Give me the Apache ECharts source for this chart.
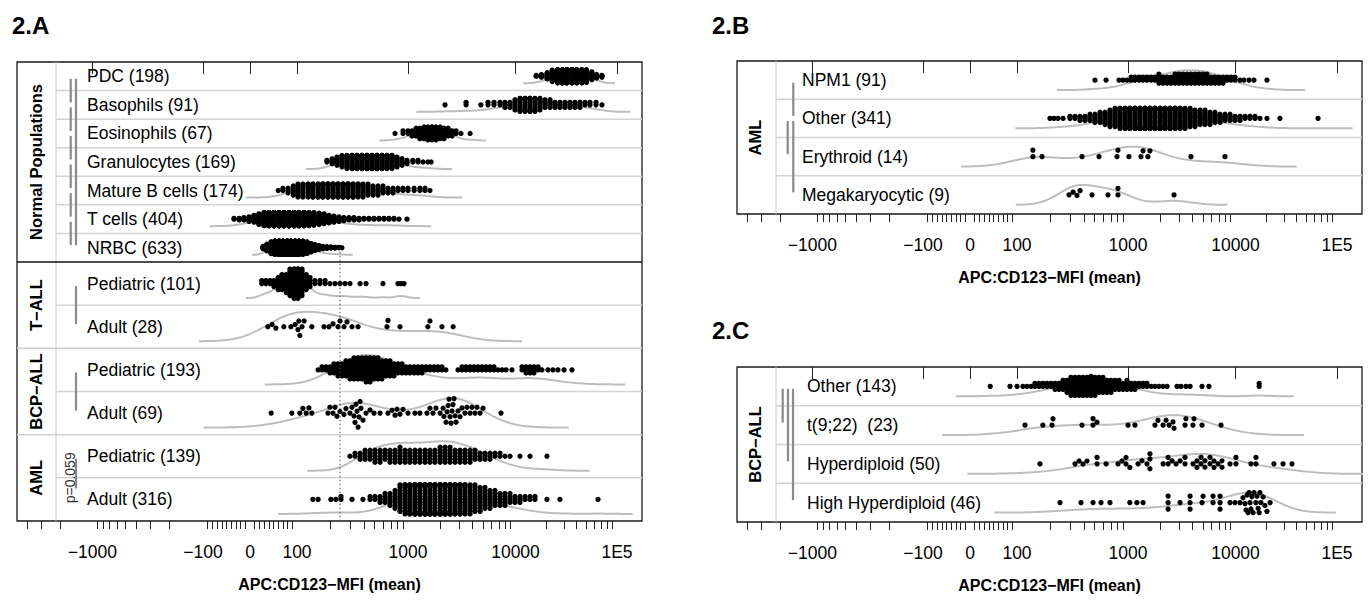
<!DOCTYPE html>
<html><head><meta charset="utf-8">
<script src="https://cdn.jsdelivr.net/npm/echarts@6.0.0/dist/echarts.min.js"></script>
<style>html,body{margin:0;padding:0;background:#fff}#c{width:1370px;height:603px}</style>
</head><body><div id="c"></div>
<script>
// ---------------- axis ticks / labels ----------------
const MAJOR_TICKS = [-1000, -100, 0, 100, 1000, 10000, 100000];
const MAJOR_LABELS = ['\u22121000', '\u2212100', '0', '100', '1000', '10000', '1E5'];
const MINOR_TICKS = [-4000,-3000,-2000,-900,-800,-700,-600,-500,-400,-300,-200,
  -90,-80,-70,-60,-50,-40,-30,-20,-10,10,20,30,40,50,60,70,80,90,
  200,300,400,500,600,700,800,900,2000,3000,4000,5000,6000,7000,8000,9000,
  20000,30000,40000,50000,60000,70000,80000,90000];
const AXIS_TITLE = 'APC:CD123\u2212MFI (mean)';
const REF_VALUE = 244;

// ---------------- 2.A data (MFI values; [value, count] = repeated points) ----------------
const pdc = [[16000,2],[18000,4],[20500,8],[23000,14],[26000,20],[29000,24],[32000,26],[36000,24],[40000,22],[45000,20],[50000,16],[56500,10],[63000,5],[71000,3]];
const basophils = [[2210,1],[3470,2],[4760,1],[5550,2],[6310,2],[7180,2],[7980,3],[8890,3],[9890,5],[11070,7],[12400,8],[13900,9],[15560,7],[17420,6],[19540,4],[21900,4],[24500,3],[27400,3],[30700,3],[34400,3],[38500,3],[43100,3],[48400,2],[54200,2],[62100,2],[71100,1]];
const eosinophils = [[764,1],[902,2],[1000,2],[1090,3],[1190,4],[1290,5],[1410,6],[1530,7],[1670,8],[1820,7],[1990,6],[2160,5],[2360,4],[2570,3],[2800,2],[3110,1],[3780,1]];
const granulocytes = [[186,2],[207,4],[229,6],[254,8],[282,10],[313,12],[347,13],[385,14],[427,14],[474,14],[526,14],[583,14],[647,12],[718,10],[796,7],[883,5],[979,3],[1110,2],[1240,2],[1380,1],[1530,1],[1640,1]];
const matureB = [[60,1],[70,2],[81,3],[92,5],[102,7],[113,7],[126,8],[139,9],[155,9],[171,10],[190,10],[211,10],[234,10],[260,10],[288,10],[320,9],[355,8],[393,7],[436,6],[484,5],[537,5],[595,4],[660,3],[732,3],[812,2],[901,2],[1000,2],[1140,2],[1290,2],[1440,2],[1600,1]];
const tCells = [[-34,2],[-23,3],[-13,4],[-2,7],[8.5,10],[19,15],[30,20],[40,24],[51,27],[62,29],[72,30],[83,30],[94,28],[104,25],[116,23],[128,20],[142,18],[158,16],[175,14],[194,11],[215,9],[239,7],[265,5],[294,4],[326,4],[362,3],[401,2],[445,2],[494,2],[548,2],[608,2],[674,2],[748,2],[830,1],[979,1]];
const nrbc = [[28,8],[36,20],[45,35],[53,48],[62,58],[70,66],[79,66],[87,64],[96,60],[104,52],[113,42],[123,35],[134,25],[145,18],[158,12],[171,8],[186,6],[202,4],[220,3],[239,2],[254,1]];
const tallPed = [[25,2],[34,2],[43,2],[51,3],[60,5],[68,6],[77,7],[85,10],[94,13],[102,14],[111,10],[121,6],[131,4],[145,2],[161,2],[179,2],[198,1],[220,1],[244,1],[271,1],[300,1],[370,1],[419,1],[595,1],[812,1],[865,1],[920,1]];
const tallAdult = [38,47,55,72,87,96,102,104,106,111,116,136,175,194,211,234,244,265,282,313,355,647,660,847,1530,1600,2070,2630];
const bcpPed = [[155,1],[168,2],[183,2],[198,3],[215,4],[234,5],[254,5],[276,6],[300,7],[326,8],[355,8],[385,8],[419,9],[455,9],[494,8],[537,8],[583,7],[634,6],[688,6],[748,5],[812,4],[883,4],[959,3],[1040,3],[1140,3],[1240,3],[1350,3],[1470,2],[1600,2],[1750,2],[1900,2],[2070,2],[2250,1],[2920,1],[3180,2],[3460,2],[3780,2],[4110,2],[4480,2],[4880,2],[5320,2],[5790,2],[6310,2],[6880,1],[7490,1],[8160,1],[9270,1],[11600,2],[12700,3],[13900,3],[15200,3],[16700,2],[18200,1],[20900,1],[23400,1],[26200,1],[30100,1],[36000,1]];
const bcpAdult = [45,89,106,113,121,128,136,190,198,211,220,229,244,265,276,300,313,326,333,340,347,355,362,370,377,393,419,455,494,560,660,718,764,796,847,902,1000,1160,1290,1500,1600,1710,1820,1990,2120,2160,2260,2310,2360,2410,2460,2510,2570,2620,2680,2740,2800,2920,3050,3180,3390,3540,3780,3940,4200,4380,4680,4990,7330];
const amlPed = [[300,1],[333,2],[370,3],[410,4],[455,4],[504,5],[560,5],[621,4],[688,5],[764,5],[847,6],[940,5],[1040,5],[1160,5],[1290,5],[1440,5],[1600,5],[1780,5],[1990,6],[2210,6],[2460,6],[2740,5],[3050,5],[3390,5],[3780,5],[4200,4],[4680,3],[5200,3],[5790,3],[6440,2],[7180,2],[7980,1],[8890,1],[11070,1],[13900,1],[20400,1]];
const amlAdult = [[139,1],[155,1],[202,1],[224,1],[249,2],[313,1],[393,1],[455,2],[504,2],[560,3],[621,4],[688,5],[764,7],[847,10],[940,12],[1040,13],[1160,15],[1290,16],[1440,17],[1600,17],[1780,17],[1990,17],[2210,16],[2460,15],[2740,14],[3050,14],[3390,12],[3780,11],[4200,10],[4680,9],[5200,8],[5790,7],[6440,6],[7180,5],[7980,5],[8890,4],[9890,3],[11070,3],[12400,2],[13900,2],[15560,2],[20400,1],[27400,1],[65000,1]];

// ---------------- 2.B data ----------------
const npm1 = [[504,1],[634,1],[830,1],[902,1],[979,1],[1070,2],[1160,2],[1270,2],[1380,2],[1500,2],[1640,2],[1780,2],[1940,4],[2120,3],[2310,3],[2510,3],[2740,4],[2980,4],[3250,4],[3540,4],[3850,4],[4200,4],[4570,4],[4990,4],[5430,4],[5920,3],[6440,3],[7030,3],[7650,3],[8340,2],[9080,2],[9890,2],[11070,1],[12100,1],[13600,1],[15200,1],[20400,1]];
const amlOther = [[198,1],[215,1],[234,1],[260,1],[300,2],[333,2],[370,3],[410,3],[455,4],[504,5],[560,6],[621,7],[688,9],[764,10],[847,12],[940,13],[1040,15],[1160,16],[1290,17],[1440,17],[1600,17],[1780,17],[1990,17],[2210,16],[2460,15],[2740,14],[3050,12],[3390,11],[3780,10],[4200,9],[4680,8],[5200,8],[5790,7],[6440,6],[7180,5],[7980,4],[8890,4],[9890,3],[11070,3],[12400,2],[13900,2],[15560,2],[17420,1],[20400,1],[27400,1],[65000,1]];
const erythroid = [139,139,168,385,548,796,812,1020,1320,1380,1530,1600,3850,7980];
const megakaryocytic = [294,320,347,370,474,660,812,812,2680];

// ---------------- 2.C data ----------------
const bcpOther = [[43,1],[85,1],[100,1],[113,1],[123,1],[134,1],[145,2],[158,2],[171,2],[186,2],[202,2],[220,3],[239,3],[260,4],[282,5],[306,7],[333,7],[362,7],[393,7],[427,7],[464,8],[504,7],[548,6],[595,6],[647,5],[703,5],[764,4],[830,4],[902,3],[979,4],[1070,3],[1160,3],[1270,2],[1380,2],[1500,2],[1640,1],[1780,1],[1940,1],[2120,1],[2310,1],[2860,1],[3110,1],[3460,1],[3780,1],[4880,1],[5660,1],[17100,2]];
const t922 = [118,171,207,211,385,484,484,526,1000,1160,1780,1900,2120,2260,2410,2620,2680,3390,3460,4020,4110,4880,7330];
const hyperdiploid = [161,333,362,393,427,[526,2],634,812,883,[959,2],1040,1240,1350,1500,[1600,3],2120,[2360,2],2570,2800,3050,[3390,2],4020,[4380,2],[4780,2],[5200,2],[5790,2],[6310,2],6880,[7490,2],8890,[10100,2],14200,[15900,2],23900,29400,36000];
const highHyperdiploid = [244,377,484,571,688,1040,1210,1380,2360,2360,2360,3050,3780,3780,3780,4880,4990,6180,6180,7180,7180,7180,8890,9890,11070,11850,12400,12700,13000,13300,13600,13900,14200,14500,14900,15200,15900,16300,16700,17100,17400,17800,18700,19500,20400,21900];

// ---------------- row labels, groups, comparisons ----------------
const A_LABELS = ['PDC (198)','Basophils (91)','Eosinophils (67)','Granulocytes (169)','Mature B cells (174)','T cells (404)','NRBC (633)','Pediatric (101)','Adult (28)','Pediatric (193)','Adult (69)','Pediatric (139)','Adult (316)'];
const A_VALUES = [pdc, basophils, eosinophils, granulocytes, matureB, tCells, nrbc, tallPed, tallAdult, bcpPed, bcpAdult, amlPed, amlAdult];
const A_GROUPS = [['Normal Populations',0,6],['T\u2212ALL',7,8],['BCP\u2212ALL',9,10],['AML',11,12]];
const A_BARS = [[0,1],[1,2],[2,3],[3,4],[4,5],[5,6],[0,6],[7,8],[9,10],[11,12]];
const A_PTEXT = [['p=0.059',11,12]];

const B_LABELS = ['NPM1 (91)','Other (341)','Erythroid (14)','Megakaryocytic (9)'];
const B_VALUES = [npm1, amlOther, erythroid, megakaryocytic];
const B_GROUPS = [['AML',0,3]];
const B_BARS = [[0,1],[1,2],[1,3]];

const C_LABELS = ['Other (143)','t(9;22)  (23)','Hyperdiploid (50)','High Hyperdiploid (46)'];
const C_VALUES = [bcpOther, t922, hyperdiploid, highHyperdiploid];
const C_GROUPS = [['BCP\u2212ALL',0,3]];
const C_BARS = [[0,1],[0,2],[0,3]];

// ---------------- layout / style (not data) ----------------
const FONT = '"Liberation Sans", Arial, sans-serif';
const X_MIN = 0, X_MAX = 625;
function T(v) { // biexponential-like display transform (axis units)
  if (v >= 100) {
    const l = Math.log10(v);
    const A = [[2,280],[3,391],[4,498.5],[5,600]];
    for (let i = 0; i < A.length - 1; i++) if (l <= A[i+1][0]) return A[i][1] + (l - A[i][0]) * (A[i+1][1] - A[i][1]);
    return 600 + (l - 5) * 101.5;
  }
  if (v <= -100) {
    const l = Math.log10(-v);
    if (l <= 3) return 186 - (l - 2) * 110.7;
    return 75.3 - (l - 3) * 108;
  }
  return 233 + v * 0.47;
}
const MAJOR_U = MAJOR_TICKS.map(T);
const MINOR_U = MINOR_TICKS.map(T);

const PANELS = [
  { grid:{left:17, top:62, width:625, height:459},
    rowH: Array(7).fill(200/7).concat(Array(6).fill(259/6)),
    labels:A_LABELS, values:A_VALUES, groups:A_GROUPS, bars:A_BARS,
    barX:[53.7,53.7,53.7,53.7,53.7,53.7,59,59,59,59], barEndTrim:[2.5,2.5,2.5,2.5,2.5,2.5,2.5,2.5,2.5,11],
    labelX:70, groupX:19, sepX:39, firstGroupSepBlack:true, ptext:A_PTEXT, ptextX:53, refLine:true },
  { grid:{left:737, top:61, width:625, height:153},
    rowH: Array(4).fill(153/4),
    labels:B_LABELS, values:B_VALUES, groups:B_GROUPS, bars:B_BARS,
    barX:[56.3,50.7,56.3], barEndTrim:[2.5,2.5,2.5],
    labelX:65, groupX:18, sepX:39 },
  { grid:{left:737, top:367, width:625, height:155},
    rowH: Array(4).fill(155/4),
    labels:C_LABELS, values:C_VALUES, groups:C_GROUPS, bars:C_BARS,
    barX:[45.7,51,56], barEndTrim:[2.5,2.5,2.5],
    labelX:70, groupX:18, sepX:39 }
];

const FILL = 3.5;
function maxColumn(us) { // largest number of identical positions
  const m = new Map(); let best = 0;
  us.forEach(u => { const k = u.toFixed(3); const c = (m.get(k) || 0) + 1; m.set(k, c); if (c > best) best = c; });
  return best;
}
function rowStyle(h, us) {
  const n = us.length, kc = maxColumn(us);
  if (h < 30) { const H = 6.5; return {H, Dx:0.5, Dy:Math.min(2.6, FILL * H / kc), base:7, amp:14}; }
  const H = h < 40 ? 10 : 14.5, base = h < 40 ? 10 : 14.5, amp = h < 40 ? 20 : 29.5;
  if (n >= 90) return {H, Dx:0.5, Dy:Math.min(3, FILL * H / kc), base, amp};
  return {H, Dx:4.5, Dy:6.5, base, amp};
}

// ---------------- helpers ----------------
function expand(arr) {
  const out = [];
  arr.forEach(e => { if (Array.isArray(e)) { for (let k = 0; k < e[1]; k++) out.push(e[0]); } else out.push(e); });
  return out;
}
// beeswarm (ascending priority, elliptical collision) with "gutter" corral
function swarm(us, Dx, Dy, H) {
  const xs = us.slice().sort((a,b) => a - b);
  const ys = [];
  for (let i = 0; i < xs.length; i++) {
    const xi = xs[i]; const lo = [], hi = [];
    for (let j = i - 1; j >= 0; j--) {
      const dx = xi - xs[j]; if (dx >= Dx) break;
      const dy = Dy * Math.sqrt(1 - (dx/Dx) * (dx/Dx)); lo.push(ys[j] - dy); hi.push(ys[j] + dy);
    }
    const c = [0].concat(lo, hi);
    c.sort((a,b) => Math.abs(a) - Math.abs(b) || a - b);
    let y = 0;
    for (const cc of c) {
      let ok = true;
      for (let k = 0; k < lo.length; k++) if (cc > lo[k] + 1e-7 && cc < hi[k] - 1e-7) { ok = false; break; }
      if (ok) { y = cc; break; }
    }
    ys.push(y);
  }
  return xs.map((x,i) => [x, Math.max(-H, Math.min(H, ys[i]))]);
}
function kde(us) {
  const s = us.slice().sort((a,b) => a - b), n = s.length;
  const mean = s.reduce((a,b) => a + b, 0) / n;
  const sd = Math.sqrt(s.reduce((a,b) => a + (b - mean) * (b - mean), 0) / Math.max(1, n - 1));
  const q = p => { const h = (n - 1) * p, l = Math.floor(h); return s[l] + (h - l) * (s[Math.min(l + 1, n - 1)] - s[l]); };
  let lo = Math.min(sd, (q(0.75) - q(0.25)) / 1.34); if (!(lo > 0)) lo = sd > 0 ? sd : 10;
  const bw = 0.9 * lo * Math.pow(n, -0.2);
  const from = s[0] - 3 * bw, to = s[n-1] + 3 * bw, m = 200;
  const pts = []; let mx = 0;
  for (let i = 0; i <= m; i++) {
    const x = from + (to - from) * i / m; let d = 0;
    for (const xi of s) { const z = (x - xi) / bw; d += Math.exp(-0.5 * z * z); }
    pts.push([x, d]); if (d > mx) mx = d;
  }
  return pts.map(p => [p[0], p[1] / mx]);
}
function nearestLabel(v) {
  let b = 0, bd = 1e9;
  MAJOR_U.forEach((u,i) => { const d = Math.abs(u - v); if (d < bd) { bd = d; b = i; } });
  return MAJOR_LABELS[b];
}

// ---------------- build option ----------------
const grids = [], xAxes = [], yAxes = [], series = [];
PANELS.forEach((P, gi) => {
  grids.push(Object.assign({show:true, borderColor:'#1a1a1a', borderWidth:1.3, backgroundColor:'transparent'}, P.grid));
  const tops = [], centers = []; let acc = 0;
  P.rowH.forEach(h => { tops.push(acc); centers.push(acc + h/2); acc += h; });
  const total = acc;
  xAxes.push({ gridIndex:gi, type:'value', min:X_MIN, max:X_MAX, position:'bottom', offset:0,
    axisLine:{show:false}, splitLine:{show:false},
    axisTick:{show:true, customValues:MAJOR_U, length:12, lineStyle:{color:'#222', width:1}},
    axisLabel:{show:true, customValues:MAJOR_U, formatter:nearestLabel, margin:22, fontSize:17.5, color:'#000', fontFamily:FONT},
    name:AXIS_TITLE, nameLocation:'middle', nameGap:55,
    nameTextStyle:{fontSize:16, fontWeight:'bold', color:'#000', fontFamily:FONT} });
  xAxes.push({ gridIndex:gi, type:'value', min:X_MIN, max:X_MAX, position:'bottom', offset:0,
    axisLine:{show:false}, splitLine:{show:false},
    axisTick:{show:true, customValues:MINOR_U, length:8, lineStyle:{color:'#222', width:1}},
    axisLabel:{show:false} });
  yAxes.push({ gridIndex:gi, type:'value', min:0, max:total, inverse:true, show:false });
  const xi = gi * 2, yi = gi;

  // background structure
  series.push({ type:'custom', xAxisIndex:xi, yAxisIndex:yi, data:[[0,0]], silent:true, z:1, clip:false,
    renderItem:(params, api) => {
      const ch = [];
      const L = (x1,y1,x2,y2,stroke,w) => { const a = api.coord([x1,y1]), b = api.coord([x2,y2]);
        ch.push({type:'line', shape:{x1:a[0],y1:a[1],x2:b[0],y2:b[1]}, style:{stroke:stroke, lineWidth:w}}); };
      L(P.sepX, 0, P.sepX, total, '#c8c8c8', 1);
      const groupStarts = P.groups.map(g => g[1]);
      for (let r = 1; r < P.rowH.length; r++) {
        const gIdx = groupStarts.indexOf(r);
        if (gIdx > 0) {
          if (gIdx === 1 && P.firstGroupSepBlack) L(X_MIN, tops[r], X_MAX, tops[r], '#111', 1.6);
          else L(X_MIN, tops[r], X_MAX, tops[r], '#cfcfcf', 1.5);
        } else L(P.sepX, tops[r], X_MAX, tops[r], '#d4d4d4', 1.5);
      }
      return {type:'group', children:ch};
    } });

  // density curves + beeswarm points (one scatter series per row)
  P.values.forEach((vals, r) => {
    const us = expand(vals).map(T);
    const st = rowStyle(P.rowH[r], us);
    const dens = kde(us);
    series.push({ type:'line', xAxisIndex:xi, yAxisIndex:yi, silent:true, z:2, symbol:'none', showSymbol:false,
      lineStyle:{color:'#bdbdbd', width:2}, clip:true,
      data: dens.map(p => [p[0], centers[r] + st.base - st.amp * p[1]]) });
    series.push({ type:'scatter', xAxisIndex:xi, yAxisIndex:yi, silent:true, z:3, symbol:'circle', symbolSize:5.3,
      large:false, itemStyle:{color:'#000', opacity:1, borderWidth:0},
      data: swarm(us, st.Dx, st.Dy, st.H).map(p => [p[0], centers[r] + p[1]]) });
  });

  // foreground annotations: labels, groups, bars
  series.push({ type:'custom', xAxisIndex:xi, yAxisIndex:yi, data:[[0,0]], silent:true, z:4, clip:false,
    renderItem:(params, api) => {
      const ch = [];
      P.labels.forEach((t, r) => { const a = api.coord([P.labelX, centers[r]]);
        ch.push({type:'text', x:a[0], y:a[1], style:{text:t, fill:'#000', font:'17.5px ' + FONT, textAlign:'left', textVerticalAlign:'middle'}}); });
      P.groups.forEach(g => { const yc = (tops[g[1]] + tops[g[2]] + P.rowH[g[2]]) / 2; const a = api.coord([P.groupX, yc]);
        ch.push({type:'text', x:a[0], y:a[1], rotation:Math.PI/2, style:{text:g[0], fill:'#000', font:'bold 16.5px ' + FONT, textAlign:'center', textVerticalAlign:'middle'}}); });
      P.bars.forEach((b, k) => { const a = api.coord([P.barX[k], centers[b[0]] + 2.5]), c = api.coord([P.barX[k], centers[b[1]] - P.barEndTrim[k]]);
        ch.push({type:'line', shape:{x1:a[0],y1:a[1],x2:c[0],y2:c[1]}, style:{stroke:'#8a8a8a', lineWidth:2.2}}); });
      (P.ptext || []).forEach(pt => { const a = api.coord([P.ptextX, (centers[pt[1]] + centers[pt[2]]) / 2]);
        ch.push({type:'text', x:a[0], y:a[1], rotation:Math.PI/2, style:{text:pt[0], fill:'#333', font:'14px ' + FONT, textAlign:'center', textVerticalAlign:'middle'}}); });
      if (P.refLine) { const a = api.coord([T(REF_VALUE), centers[6]]), c = api.coord([T(REF_VALUE), total]);
        ch.push({type:'line', shape:{x1:a[0],y1:a[1],x2:c[0],y2:c[1]}, style:{stroke:'#444', lineWidth:1, lineDash:[1.5,2.5]}}); }
      return {type:'group', children:ch};
    } });
});

const chart = echarts.init(document.getElementById('c'), null, {renderer:'svg'});
chart.setOption({
  animation:false,
  backgroundColor:'#fff',
  textStyle:{fontFamily:FONT},
  title:[
    {text:'2.A', left:7, top:8, textStyle:{fontSize:24, fontWeight:'bold', color:'#000', fontFamily:FONT}},
    {text:'2.B', left:707, top:8, textStyle:{fontSize:24, fontWeight:'bold', color:'#000', fontFamily:FONT}},
    {text:'2.C', left:707, top:313, textStyle:{fontSize:24, fontWeight:'bold', color:'#000', fontFamily:FONT}}
  ],
  grid:grids, xAxis:xAxes, yAxis:yAxes, series:series
});
</script></body></html>
